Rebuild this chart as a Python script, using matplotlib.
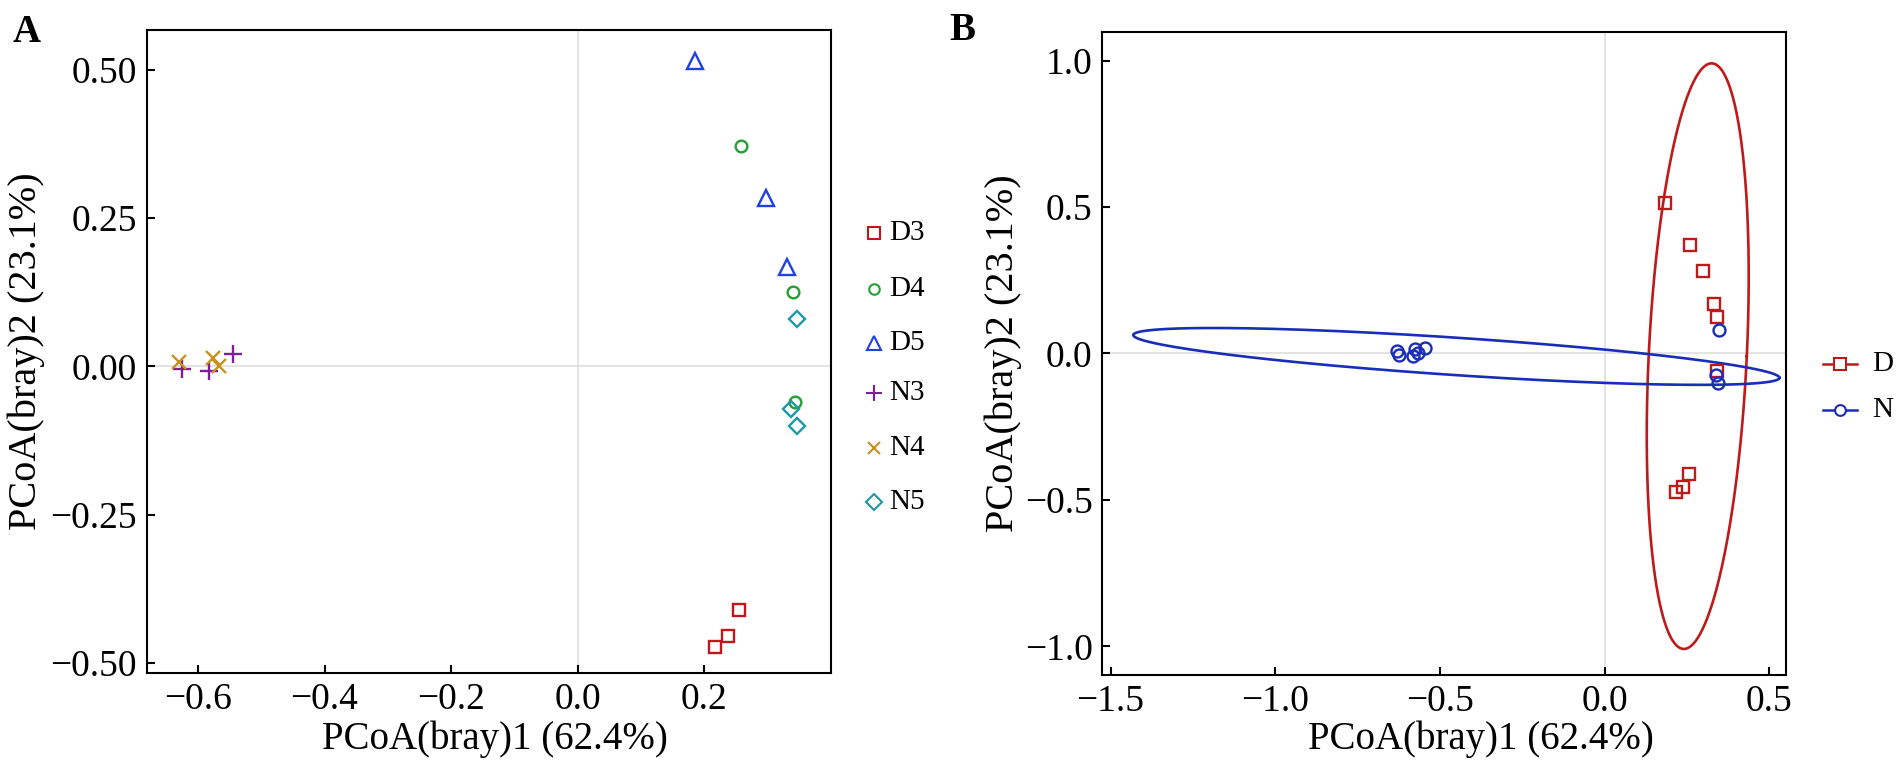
import numpy as np
import matplotlib
matplotlib.use("Agg")
import matplotlib.pyplot as plt
from matplotlib.lines import Line2D

plt.rcParams['font.family'] = ['Liberation Serif', 'DejaVu Serif']

# ---------------- data ----------------
groups_A = ['D3', 'D4', 'D5', 'N3', 'N4', 'N5']
pc1 = {
    'D3': [0.255, 0.237, 0.217],
    'D4': [0.258, 0.341, 0.343],
    'D5': [0.185, 0.298, 0.331],
    'N3': [-0.625, -0.583, -0.545],
    'N4': [-0.630, -0.577, -0.566],
    'N5': [0.347, 0.338, 0.346],
}
pc2 = {
    'D3': [-0.410, -0.455, -0.474],
    'D4': [0.371, 0.125, -0.060],
    'D5': [0.515, 0.283, 0.168],
    'N3': [-0.005, -0.008, 0.020],
    'N4': [0.008, 0.014, 0.000],
    'N5': [0.080, -0.072, -0.100],
}
groups_B = ['D', 'N']
members_B = {'D': ['D3', 'D4', 'D5'], 'N': ['N3', 'N4', 'N5']}

# ellipse (stat_ellipse-like) parameters:
# x = cx + a11 cos t + a12 sin t ; y = cy + a21 cos t + a22 sin t
ellipse_center = {'D': (0.283, -0.009), 'N': (-0.450, -0.010)}
ellipse_matrix = {'D': [[0.149, 0.042], [0.0, 1.000]],
                  'N': [[0.981, 0.0], [-0.073, 0.064]]}

xticks_A = [-0.6, -0.4, -0.2, 0.0, 0.2]
xticklabels_A = ['\u22120.6', '\u22120.4', '\u22120.2', '0.0', '0.2']
yticks_A = [-0.50, -0.25, 0.0, 0.25, 0.50]
yticklabels_A = ['\u22120.50', '\u22120.25', '0.00', '0.25', '0.50']
xticks_B = [-1.5, -1.0, -0.5, 0.0, 0.5]
xticklabels_B = ['\u22121.5', '\u22121.0', '\u22120.5', '0.0', '0.5']
yticks_B = [-1.0, -0.5, 0.0, 0.5, 1.0]
yticklabels_B = ['\u22121.0', '\u22120.5', '0.0', '0.5', '1.0']
xlabel = 'PCoA(bray)1 (62.4%)'
ylabel = 'PCoA(bray)2 (23.1%)'

# ---------------- styles ----------------
colors_A = {'D3': '#C0161E', 'D4': '#22A033', 'D5': '#1E40E6',
            'N3': '#7E1E9E', 'N4': '#C8921C', 'N5': '#1C98A8'}
markers_A = {'D3': 's', 'D4': 'o', 'D5': '^', 'N3': '+', 'N4': 'x', 'N5': 'D'}
msize_A = {'D3': 8.8, 'D4': 8.4, 'D5': 11.0, 'N3': 12.5, 'N4': 10.3, 'N5': 8.6}
colors_B = {'D': '#BF1A1A', 'N': '#1A2DB8'}
markers_B = {'D': 's', 'N': 'o'}
msize_B = {'D': 8.8, 'N': 8.6}

W, H = 1902, 764
fig = plt.figure(figsize=(W / 100, H / 100), dpi=100)


def fx(px):
    return px / W


def fy(py):
    return 1 - py / H


def style_axes(ax):
    for s in ax.spines.values():
        s.set_linewidth(1.5)
        s.set_color('black')
    ax.tick_params(direction='in', length=6, width=1.5, labelsize=27, pad=7,
                   top=False, right=False, colors='black')
    ax.axhline(0, color='#E0E0E0', lw=1.3, zorder=0)
    ax.axvline(0, color='#E0E0E0', lw=1.3, zorder=0)


# ---------------- panel A ----------------
axA = fig.add_axes([fx(146.7), fy(673), (830.7 - 146.7) / W, (673 - 30) / H])
style_axes(axA)
for g in groups_A:
    axA.plot(pc1[g], pc2[g], ls='none', marker=markers_A[g], mfc='none',
             mec=colors_A[g], ms=msize_A[g], mew=1.7, zorder=3)
axA.set_xlim(-0.681, 0.400)
axA.set_ylim(-0.517, 0.567)
axA.set_xticks(xticks_A)
axA.set_xticklabels(xticklabels_A)
axA.set_yticks(yticks_A)
axA.set_yticklabels(yticklabels_A)

# ---------------- panel B ----------------
axB = fig.add_axes([fx(1102.3), fy(675), (1786 - 1102.3) / W, (675 - 32) / H])
style_axes(axB)
t = np.linspace(0, 2 * np.pi, 400)
for g in groups_B:
    cx, cy = ellipse_center[g]
    (a11, a12), (a21, a22) = ellipse_matrix[g]
    axB.plot(cx + a11 * np.cos(t) + a12 * np.sin(t),
             cy + a21 * np.cos(t) + a22 * np.sin(t),
             color=colors_B[g], lw=1.9, zorder=2)
for g in groups_B:
    xs = sum((pc1[m] for m in members_B[g]), [])
    ys = sum((pc2[m] for m in members_B[g]), [])
    axB.plot(xs, ys, ls='none', marker=markers_B[g], mfc='none',
             mec=colors_B[g], ms=msize_B[g], mew=1.7, zorder=3)
axB.set_xlim(-1.525, 0.551)
axB.set_ylim(-1.098, 1.098)
axB.set_xticks(xticks_B)
axB.set_xticklabels(xticklabels_B)
axB.set_yticks(yticks_B)
axB.set_yticklabels(yticklabels_B)

# ---------------- axis titles ----------------
fig.text(fx(495), fy(749), xlabel, ha='center', va='baseline', fontsize=28)
fig.text(fx(1481), fy(749), xlabel, ha='center', va='baseline', fontsize=28)
fig.text(fx(26), fy(351), ylabel, ha='center', va='center', rotation=90, fontsize=29)
fig.text(fx(1003), fy(353), ylabel, ha='center', va='center', rotation=90, fontsize=29)

# panel letters
fig.text(fx(27), fy(32), 'A', ha='center', va='center', fontsize=28, fontweight='bold')
fig.text(fx(962), fy(30), 'B', ha='center', va='center', fontsize=28, fontweight='bold')

# ---------------- legends ----------------
legA_y = [233, 289, 343, 393, 448, 502]
for g, py in zip(groups_A, legA_y):
    fig.add_artist(Line2D([fx(874)], [fy(py)], ls='none', marker=markers_A[g],
                          mfc='none', mec=colors_A[g], ms=msize_A[g] * 0.9,
                          mew=1.5, transform=fig.transFigure))
    fig.text(fx(889), fy(py), g, ha='left', va='center', fontsize=21)

legB_y = [364, 410]
for g, py in zip(groups_B, legB_y):
    fig.add_artist(Line2D([fx(1823), fx(1857)], [fy(py), fy(py)], color=colors_B[g],
                          lw=1.8, transform=fig.transFigure))
    fig.add_artist(Line2D([fx(1840)], [fy(py)], ls='none', marker=markers_B[g],
                          mfc='white', mec=colors_B[g], ms=msize_B[g] * 0.9,
                          mew=1.5, transform=fig.transFigure))
    fig.text(fx(1872), fy(py), g, ha='left', va='center', fontsize=21)

fig.savefig('out.png', dpi=100)
